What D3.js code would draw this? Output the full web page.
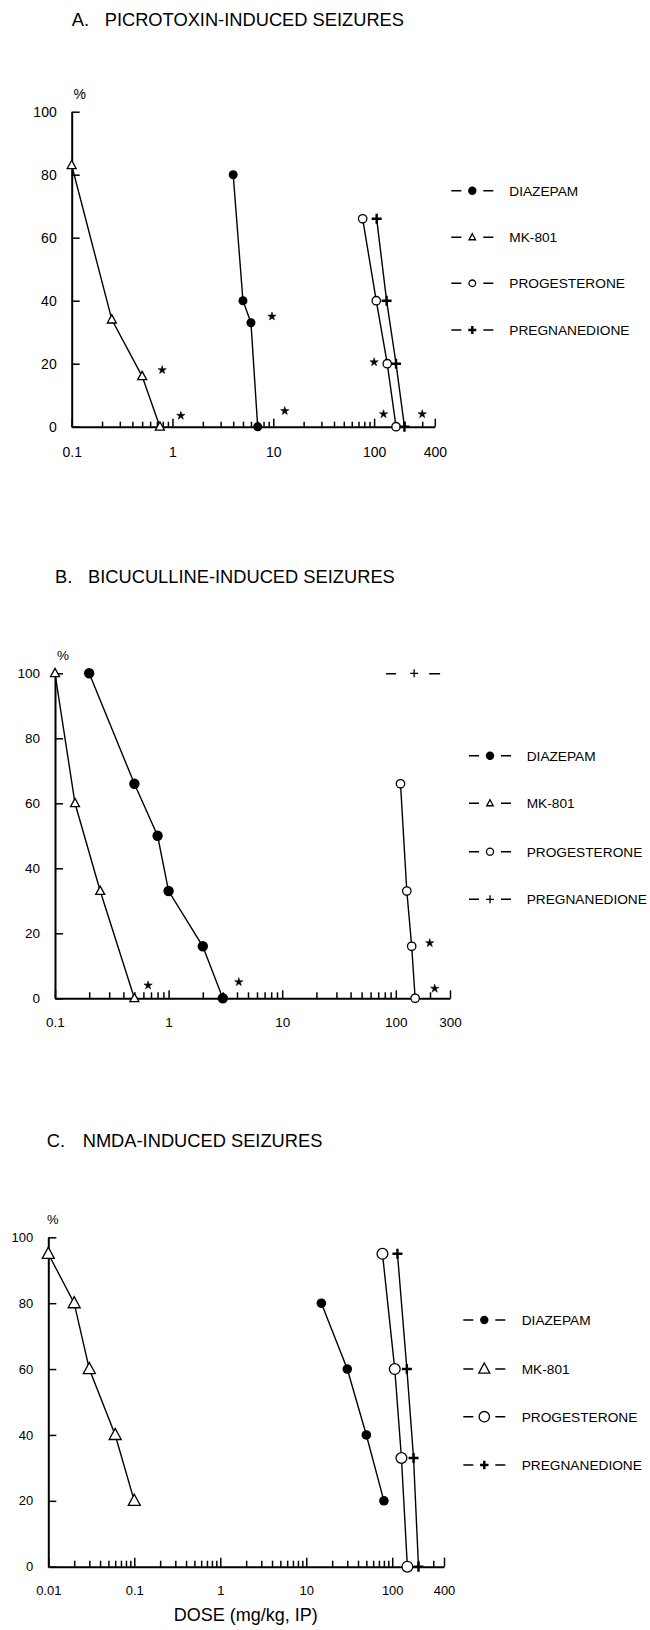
<!DOCTYPE html>
<html>
<head>
<meta charset="utf-8">
<script src="https://cdn.jsdelivr.net/npm/d3@7"></script>
<style>
  body { margin: 0; background: #fff; }
  svg { display: block; font-family: "Liberation Sans", Arial, Helvetica, sans-serif; }
</style>
</head>
<body>
<svg id="chart" width="650" height="1630"></svg>
<script>
// % of animals with seizures against dose (mg/kg, log scale)
const drugNames = ["DIAZEPAM", "MK-801", "PROGESTERONE", "PREGNANEDIONE"];
const yTicks = [0, 20, 40, 60, 80, 100];

// A. picrotoxin
const picroDiazepam = [[4, 80], [5, 40], [6, 33], [7, 0]];
const picroMk801 = [[0.1, 83], [0.25, 34], [0.5, 16], [0.75, 0]];
const picroProgesterone = [[77, 66], [105, 40], [135, 20], [165, 0]];
const picroPregnanedione = [[106, 66], [133, 40], [165, 20], [200, 0]];
const picroStars = [[0.79, 18], [1.21, 3.5], [9.7, 35], [13, 5], [100, 20.5], [124, 4], [300, 4]];
const picroTicks = [0.1, 1, 10, 100, 400];

// B. bicuculline
const bicuDiazepam = [[0.2, 100], [0.5, 66], [0.8, 50], [1, 33], [2, 16], [3, 0]];
const bicuMk801 = [[0.1, 100], [0.15, 60], [0.25, 33], [0.5, 0]];
const bicuProgesterone = [[110, 66], [125, 33], [138, 16], [148, 0]];
const bicuPregnanedione = [[145, 100]];
const bicuStars = [[0.66, 4], [4.15, 5], [199, 17], [220, 3]];
const bicuTicks = [0.1, 1, 10, 100, 300];

// C. NMDA
const nmdaDiazepam = [[15, 80], [30, 60], [50, 40], [80, 20]];
const nmdaMk801 = [[0.01, 95], [0.02, 80], [0.03, 60], [0.06, 40], [0.1, 20]];
const nmdaProgesterone = [[77, 95], [107, 60], [128, 33], [150, 0]];
const nmdaPregnanedione = [[115, 95], [148, 60], [177, 33], [202, 0]];
const nmdaStars = [];
const nmdaTicks = [0.01, 0.1, 1, 10, 100, 400];

const markerType = {
  "DIAZEPAM": "filled",
  "MK-801": "triangle",
  "PROGESTERONE": "open",
  "PREGNANEDIONE": "plus",
};

const panels = [
  {
    letter: "A.", title: "PICROTOXIN-INDUCED SEIZURES", titleX: 71.7, titleGap: 33, titleY: 25.5,
    left: 71.7, right: 434.8, top: 111.7, bottom: 426.7,
    ticks: picroTicks, fontSize: 14, minorTick: 5, majorTick: 8,
    series: [picroMk801, picroDiazepam, picroProgesterone, picroPregnanedione],
    stars: picroStars,
    sizes: { filled: 4.5, open: 4.2, tri: 9, plus: 5, plusW: 2.4 },
    legend: { x: 472.3, textX: 509.3, rows: [190.7, 237.3, 283.3, 330],
              sizes: { filled: 4.2, open: 3.3, tri: 6.5, plus: 4, plusW: 2.4 } },
  },
  {
    letter: "B.", title: "BICUCULLINE-INDUCED SEIZURES", titleX: 55, titleGap: 33, titleY: 583.3,
    left: 55, right: 450, top: 673.3, bottom: 998.3,
    ticks: bicuTicks, fontSize: 13.5, minorTick: 6, majorTick: 8,
    series: [bicuMk801, bicuDiazepam, bicuProgesterone, null],
    stars: bicuStars,
    sizes: { filled: 5.2, open: 4.2, tri: 9, plus: 4, plusW: 1.3 },
    legend: { x: 490, textX: 526.7, rows: [755.7, 803.3, 851.7, 899.3],
              sizes: { filled: 4.2, open: 3.5, tri: 6.5, plus: 4, plusW: 1.3 } },
  },
  {
    letter: "C.", title: "NMDA-INDUCED SEIZURES", titleX: 46.7, titleGap: 36, titleY: 1146.7,
    left: 48.3, right: 444, top: 1237.3, bottom: 1566.7,
    ticks: nmdaTicks, fontSize: 13, minorTick: 6, majorTick: 9,
    series: [nmdaMk801, nmdaDiazepam, nmdaProgesterone, nmdaPregnanedione],
    stars: nmdaStars,
    sizes: { filled: 4.8, open: 5.4, tri: 12, plus: 5, plusW: 2.4 },
    legend: { x: 484.3, textX: 521.7, rows: [1320, 1369, 1416.7, 1465],
              sizes: { filled: 4.2, open: 5.2, tri: 11, plus: 4.2, plusW: 2.4 } },
  },
];
const seriesDrugs = ["MK-801", "DIAZEPAM", "PROGESTERONE", "PREGNANEDIONE"];

const svg = d3.select("#chart");

function drawMarker(g, type, s) {
  if (type === "filled") {
    g.append("circle").attr("r", s.filled).attr("fill", "#000");
  } else if (type === "open") {
    g.append("circle").attr("r", s.open).attr("fill", "#fff")
      .attr("stroke", "#000").attr("stroke-width", 1.3);
  } else if (type === "triangle") {
    const w = s.tri;
    g.append("path")
      .attr("d", `M0,${-w * 0.55}L${w / 2},${w * 0.38}L${-w / 2},${w * 0.38}Z`)
      .attr("fill", "#fff").attr("stroke", "#000").attr("stroke-width", 1.3)
      .attr("stroke-linejoin", "miter");
  } else if (type === "plus") {
    g.append("path")
      .attr("d", `M${-s.plus},0H${s.plus}M0,${-s.plus}V${s.plus}`)
      .attr("stroke", "#000").attr("stroke-width", s.plusW);
  }
}

// every 1..9 x 10^n step that falls in the domain, plus the domain end
function logSteps(domain) {
  const out = [];
  for (let e = Math.floor(Math.log10(domain[0])); e <= Math.ceil(Math.log10(domain[1])); e++) {
    for (let k = 1; k <= 9; k++) {
      const v = +(k * Math.pow(10, e)).toPrecision(6);
      if (v >= domain[0] && v <= domain[1]) out.push(v);
    }
  }
  if (!out.includes(domain[1])) out.push(domain[1]);
  return out;
}

function drawPanel(p) {
  const xDomain = [p.ticks[0], p.ticks[p.ticks.length - 1]];
  const x = d3.scaleLog().domain(xDomain).range([p.left, p.right]);
  const y = d3.scaleLinear().domain([0, 100]).range([p.bottom, p.top]);
  const g = svg.append("g");

  // title
  const t = g.append("text").attr("y", p.titleY).attr("font-size", 18.3).attr("fill", "#000");
  t.append("tspan").attr("x", p.titleX).text(p.letter);
  t.append("tspan").attr("x", p.titleX + p.titleGap).text(p.title);

  // x axis: minor ticks, then major ticks with labels
  const minors = logSteps(xDomain).filter((v) => !p.ticks.includes(v));
  g.append("g")
    .attr("transform", `translate(0,${p.bottom})`)
    .call(d3.axisBottom(x).tickValues(minors).tickFormat("").tickSizeInner(-p.minorTick).tickSizeOuter(0))
    .call((a) => a.select(".domain").remove());
  g.append("g")
    .attr("class", "axis")
    .attr("transform", `translate(0,${p.bottom})`)
    .call(d3.axisBottom(x).tickValues(p.ticks).tickFormat((d) => String(d))
      .tickSizeInner(-p.majorTick).tickSizeOuter(0).tickPadding(p.fontSize + 6));

  // y axis with inward ticks
  g.append("g")
    .attr("class", "axis")
    .attr("transform", `translate(${p.left},0)`)
    .call(d3.axisLeft(y).tickValues(yTicks).tickSizeInner(-8).tickSizeOuter(0).tickPadding(15));

  g.selectAll(".tick line").attr("stroke", "#000").attr("stroke-width", 1.5);
  g.selectAll(".domain").attr("stroke", "#000").attr("stroke-width", 2);
  g.selectAll(".tick text")
    .attr("fill", "#000")
    .attr("font-family", "'Liberation Sans', Arial, Helvetica, sans-serif")
    .attr("font-size", p.fontSize);

  g.append("text")
    .attr("x", p.left + (p.letter === "C." ? 4.5 : 8))
    .attr("y", p.top - 13)
    .attr("text-anchor", "middle")
    .attr("font-size", p.fontSize)
    .text("%");

  // curves
  const line = d3.line().x((d) => x(d[0])).y((d) => y(d[1]));
  p.series.forEach((pts) => {
    if (!pts) return;
    g.append("path").datum(pts).attr("d", line)
      .attr("fill", "none").attr("stroke", "#000").attr("stroke-width", 1.4);
  });
  p.series.forEach((pts, i) => {
    if (!pts) return;
    g.append("g").selectAll("g").data(pts).join("g")
      .attr("transform", (d) => `translate(${x(d[0])},${y(d[1])})`)
      .each(function () { drawMarker(d3.select(this), markerType[seriesDrugs[i]], p.sizes); });
  });

  // significance stars
  g.append("g").selectAll("path").data(p.stars).join("path")
    .attr("transform", (d) => `translate(${x(d[0])},${y(d[1])})`)
    .attr("d", d3.symbol().type(d3.symbolStar).size(22))
    .attr("fill", "#000")
    .attr("stroke", "#000").attr("stroke-width", 0.5);

  // legend
  const lg = g.append("g");
  drugNames.forEach((name, i) => {
    const row = lg.append("g").attr("transform", `translate(${p.legend.x},${p.legend.rows[i]})`);
    row.append("path").attr("d", "M-21,0H-11M11,0H21").attr("stroke", "#000").attr("stroke-width", 1.5);
    drawMarker(row, markerType[name], p.legend.sizes);
    lg.append("text")
      .attr("x", p.legend.textX).attr("y", p.legend.rows[i])
      .attr("dy", "0.36em").attr("font-size", 13.7).text(name);
  });

  return { g, x, y };
}

const drawn = panels.map(drawPanel);

// B: pregnanedione shown as a lone "- + -" at 100 %
const bp = drawn[1];
const bpg = bp.g.append("g").selectAll("g").data(bicuPregnanedione).join("g")
  .attr("transform", (d) => `translate(${bp.x(d[0])},${bp.y(d[1])})`);
bpg.append("path").attr("d", "M-28,0.5H-18M15,0.5H26").attr("stroke", "#000").attr("stroke-width", 1.5);
bpg.each(function () { drawMarker(d3.select(this), "plus", panels[1].sizes); });

// x axis title
svg.append("text")
  .attr("x", 245.8).attr("y", 1621)
  .attr("text-anchor", "middle")
  .attr("font-size", 18)
  .text("DOSE (mg/kg, IP)");
</script>
</body>
</html>
